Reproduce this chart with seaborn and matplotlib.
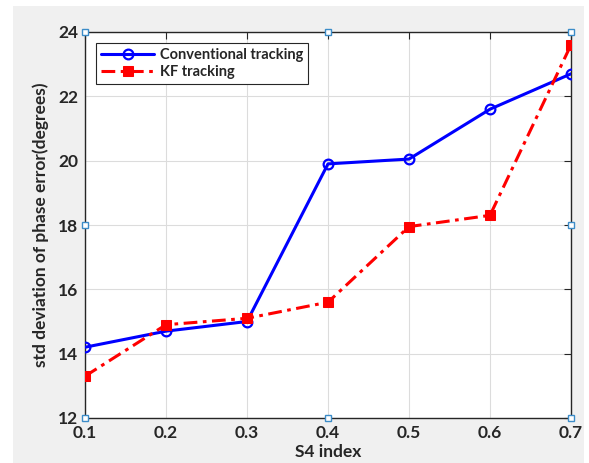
import matplotlib
matplotlib.use("Agg")
import matplotlib.pyplot as plt
import seaborn as sns
import pandas as pd
from matplotlib.patches import Rectangle

s4 = [0.1, 0.2, 0.3, 0.4, 0.5, 0.6, 0.7]
conventional = [14.2, 14.7, 15.0, 19.9, 20.05, 21.6, 22.7]
kf = [13.3, 14.9, 15.1, 15.6, 17.95, 18.3, 23.6]
xticks = [0.1, 0.2, 0.3, 0.4, 0.5, 0.6, 0.7]
yticks = [12, 14, 16, 18, 20, 22, 24]

sns.set_style("white")
plt.rcParams['font.family'] = ['Lato', 'DejaVu Sans']
plt.rcParams['font.weight'] = 'bold'

fig = plt.figure(figsize=(5.89, 4.63), dpi=100)
fig.patch.set_facecolor('#f0f0f0')
# white frame strips at top and left like the screenshot
fig.patches.append(Rectangle((0, 1 - 6/463), 1, 6/463, transform=fig.transFigure,
                             facecolor='white', edgecolor='none', zorder=-1))
fig.patches.append(Rectangle((0, 0), 13/589, 1, transform=fig.transFigure,
                             facecolor='white', edgecolor='none', zorder=-1))
fig.patches.append(Rectangle((584/589, 0), 5/589, 1, transform=fig.transFigure,
                             facecolor='white', edgecolor='none', zorder=-1))

ax = fig.add_axes([85/589, 1 - 418/463, (571 - 85)/589, (418 - 32)/463])
ax.set_facecolor('white')

df_c = pd.DataFrame({'x': s4, 'y': conventional})
df_k = pd.DataFrame({'x': s4, 'y': kf})
sns.lineplot(data=df_c, x='x', y='y', ax=ax, color='#0000ff', lw=2.2,
             marker='o', markersize=7, markerfacecolor='none',
             markeredgecolor='#0000ff', markeredgewidth=1.6,
             label='Conventional tracking', zorder=3)
sns.lineplot(data=df_k, x='x', y='y', ax=ax, color='#ff0000', lw=2.2,
             marker='s', markersize=6.5, markerfacecolor='#ff0000',
             markeredgecolor='#ff0000', linestyle=(0, (4.5, 1.8, 1.2, 1.8)),
             label='KF tracking', zorder=3)

ax.set_xlim(0.1, 0.7)
ax.set_ylim(12, 24)
ax.set_xticks(xticks)
ax.set_xticklabels([f"{t:.1f}" for t in xticks])
ax.set_yticks(yticks)
ax.set_yticklabels([str(t) for t in yticks])
ax.grid(True, color='#dcdcdc', lw=0.8)
ax.set_axisbelow(True)
for sp in ax.spines.values():
    sp.set_color('#262626')
    sp.set_linewidth(1.0)
ax.tick_params(direction='in', length=5, width=0.8, color='#262626',
               top=True, right=True, labelsize=12.5, labelcolor='#262626', pad=5)
for lab in ax.get_xticklabels() + ax.get_yticklabels():
    lab.set_fontweight('bold')

ax.set_xlabel('S4 index', fontsize=12.5, fontweight='bold', color='#262626', labelpad=2)
ax.set_ylabel('std deviation of phase error(degrees)', fontsize=12.5,
              fontweight='bold', color='#262626', labelpad=6)

# selection handles (MATLAB edit mode)
for hx in (0, 0.5, 1):
    for hy in (0, 0.5, 1):
        if hx == 0.5 and hy == 0.5:
            continue
        if hx == 0.5 and hy == 0.5:
            continue
        ax.plot(hx, hy, marker='s', ms=5, mfc='white', mec='#3c8cc8', mew=1.0,
                transform=ax.transAxes, clip_on=False, zorder=5)

leg = ax.legend(loc='upper left', bbox_to_anchor=(0.023, 0.972), fontsize=10.5,
                frameon=True, fancybox=False, framealpha=1, edgecolor='#262626',
                handlelength=3.6, borderpad=0.35, labelspacing=0.2,
                handletextpad=0.4, borderaxespad=0)
leg.get_frame().set_linewidth(0.8)
for t in leg.get_texts():
    t.set_fontweight('bold')
    t.set_color('#262626')

fig.savefig('out.png', dpi=100, facecolor=fig.get_facecolor())
